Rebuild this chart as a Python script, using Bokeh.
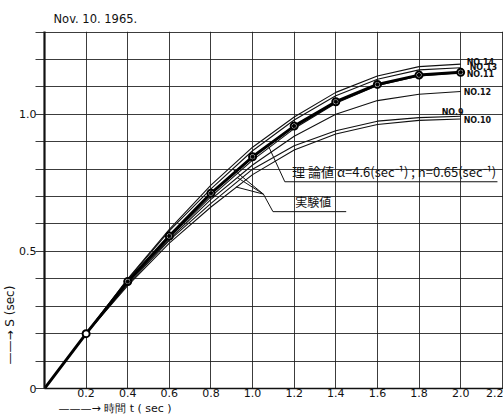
import numpy as np
from bokeh.plotting import figure
from bokeh.models import FixedTicker, ColumnDataSource, Range1d, Title
from bokeh.core.properties import value
from bokeh.embed import file_html
from bokeh.resources import INLINE

# ---------------- data ----------------
title_text = "Nov. 10. 1965."
x_axis_text = "———→ 時間 t ( sec )"
y_axis_text = "——→   S   (sec)"

t = [0.0, 0.2, 0.4, 0.6, 0.8, 1.0, 1.2, 1.4, 1.6, 1.8, 2.0]
s_theory = [0.0, 0.20, 0.39, 0.556, 0.712, 0.845, 0.957, 1.046, 1.109, 1.143, 1.153]
s_no14 = [0.0, 0.20, 0.40, 0.58, 0.742, 0.88, 0.99, 1.08, 1.14, 1.174, 1.183]
s_no13 = [0.0, 0.20, 0.398, 0.575, 0.728, 0.867, 0.979, 1.068, 1.128, 1.162, 1.17]
s_no11 = [0.0, 0.20, 0.39, 0.55, 0.70, 0.833, 0.948, 1.04, 1.105, 1.14, 1.152]
s_no12 = [0.0, 0.20, 0.385, 0.545, 0.69, 0.815, 0.92, 1.0, 1.05, 1.073, 1.083]
s_no9 = [0.0, 0.20, 0.38, 0.54, 0.675, 0.80, 0.885, 0.94, 0.975, 0.988, 0.993]
s_no10 = [0.0, 0.20, 0.375, 0.53, 0.662, 0.78, 0.87, 0.928, 0.963, 0.978, 0.983]
curve_names = ["NO.14", "NO.13", "NO.11", "NO.12", "NO.9", "NO.10"]

x_tick_values = [0.2, 0.4, 0.6, 0.8, 1.0, 1.2, 1.4, 1.6, 1.8, 2.0, 2.2]
x_tick_labels = ["0.2", "0.4", "0.6", "0.8", "1.0", "1.2", "1.4", "1.6", "1.8", "2.0", "2.2"]
y_grid_values = [0.0, 0.1, 0.2, 0.3, 0.4, 0.5, 0.6, 0.7, 0.8, 0.9, 1.0, 1.1, 1.2, 1.3]
y_label_values = [0.0, 0.5, 1.0]
y_label_texts = ["0", "0.5", "1.0"]

theory_text = "理 論値  α=4.6(sec⁻¹) ; n=0.65(sec⁻¹)"
exp_text = "実験値"
# annotation (leader) lines, in data units
theory_leader_x = [1.074, 1.155, 2.177]
theory_leader_y = [0.888, 0.754, 0.754]
exp_leader_x = [1.052, 1.098, 1.45]
exp_leader_y = [0.709, 0.645, 0.645]
exp_fan_x = [0.905, 0.925, 0.92]
exp_fan_y = [0.80, 0.77, 0.735]
theory_text_pos = (1.19, 0.757)
exp_text_pos = (1.205, 0.650)

# ---------------- figure ----------------
p = figure(width=503, height=414,
           x_range=Range1d(0, 2.206), y_range=Range1d(0, 1.302),
           output_backend="svg", toolbar_location=None,
           min_border_left=43, min_border_right=0,
           min_border_top=31, min_border_bottom=26,
           title=title_text)
p.outline_line_color = None
p.background_fill_color = "white"
p.border_fill_color = "white"

p.title.text_font = "DejaVu Sans"
p.title.text_font_size = "11.5px"
p.title.text_font_style = "normal"
p.title.text_color = "#111111"
p.title.offset = 9
p.title.standoff = 12

grid_color = "#1a1a1a"
p.xaxis.ticker = FixedTicker(ticks=x_tick_values)
p.xaxis.major_label_overrides = dict(zip(x_tick_values, x_tick_labels))
p.xaxis.major_tick_out = 0
p.xaxis.major_tick_in = 0
p.xaxis.minor_tick_out = 0
p.xaxis.minor_tick_in = 0
p.xaxis.axis_line_width = 1.5
p.xaxis.axis_line_color = "#111111"
p.xaxis.major_label_standoff = 0
p.xaxis.major_label_text_font = "DejaVu Sans"
p.xaxis.major_label_text_font_size = "11px"
p.xaxis.major_label_text_color = "#111111"
p.xgrid.ticker = FixedTicker(ticks=x_tick_values)
p.xgrid.grid_line_color = grid_color
p.xgrid.grid_line_width = 1
p.xgrid.grid_line_alpha = 0.85

ylabels = {v: "" for v in y_grid_values}
ylabels.update(dict(zip(y_label_values, y_label_texts)))
p.yaxis.ticker = FixedTicker(ticks=y_grid_values)
p.yaxis.major_label_overrides = ylabels
p.yaxis.major_tick_out = 9
p.yaxis.major_tick_in = 0
p.yaxis.minor_tick_out = 0
p.yaxis.minor_tick_in = 0
p.yaxis.major_tick_line_color = grid_color
p.yaxis.major_tick_line_alpha = 0.85
p.yaxis.axis_line_width = 2.2
p.yaxis.axis_line_color = "#111111"
p.yaxis.major_label_standoff = -1
p.yaxis.major_label_text_font = "DejaVu Sans"
p.yaxis.major_label_text_font_size = "11px"
p.yaxis.major_label_text_color = "#111111"
p.ygrid.ticker = FixedTicker(ticks=y_grid_values)
p.ygrid.grid_line_color = grid_color
p.ygrid.grid_line_width = 1
p.ygrid.grid_line_alpha = 0.85

# axis titles placed like the original
p.add_layout(Title(text=x_axis_text, align="left", offset=14, standoff=0,
                   text_font="DejaVu Sans", text_font_size="11px",
                   text_font_style="normal", text_color="#111111"), "below")
p.add_layout(Title(text=y_axis_text, align="left", offset=24, standoff=0,
                   text_font="DejaVu Sans", text_font_size="12px",
                   text_font_style="normal", text_color="#111111"), "left")

# ---------------- curves ----------------
series = [s_no14, s_no13, s_no11, s_no12, s_no9, s_no10]
for s in series:
    p.line(t, s, line_color="#111111", line_width=1.1)
p.line(t, s_theory, line_color="#000000", line_width=3.0)

p.scatter(t[1:], s_theory[1:], marker="circle", size=7, fill_color="white",
          line_color="black", line_width=2)
p.scatter(t[2:], s_theory[2:], marker="circle", size=3.5, fill_color="black",
          line_color="black")

# curve labels at the right end
end_x = [t[-1]] * len(series)
end_y = [s[-1] for s in series]
lab_src = ColumnDataSource(dict(x=end_x, y=end_y, text=curve_names,
                                xo=[6, 9, 6, 3, -19, 3], yo=[-2, 0, 2, 1, -4, 1.5]))
p.text(x="x", y="y", text="text", x_offset="xo", y_offset="yo", source=lab_src,
       text_font=value("DejaVu Sans"), text_font_style="bold",
       text_font_size="8px", text_baseline="middle", text_align="left",
       text_color="#111111")

# leader lines
p.line(theory_leader_x, theory_leader_y, line_color="#111111", line_width=1)
p.line(exp_leader_x, exp_leader_y, line_color="#111111", line_width=1)
p.segment(x0=[exp_leader_x[0]] * len(exp_fan_x), y0=[exp_leader_y[0]] * len(exp_fan_y),
          x1=exp_fan_x, y1=exp_fan_y, line_color="#111111", line_width=1)

p.text(x=[theory_text_pos[0]], y=[theory_text_pos[1]], text=[theory_text],
       text_font=value("Noto Sans CJK JP"), text_font_size="13px",
       text_baseline="bottom", text_align="left", text_color="#111111")
p.text(x=[exp_text_pos[0]], y=[exp_text_pos[1]], text=[exp_text],
       text_font=value("Noto Sans CJK JP"), text_font_size="12px",
       text_baseline="bottom", text_align="left", text_color="#111111")

open("out.html", "w").write(file_html(p, INLINE))
